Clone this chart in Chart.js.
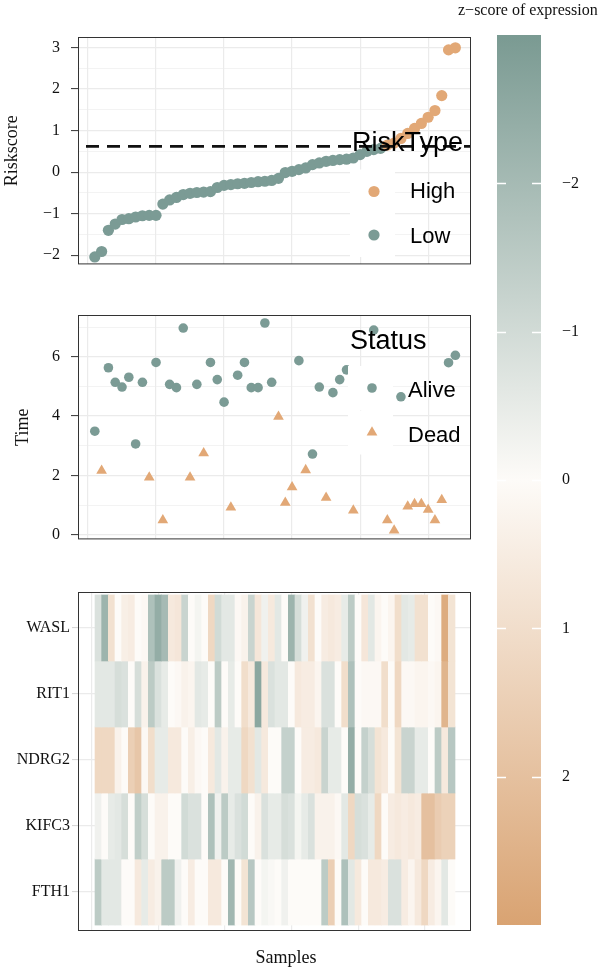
<!DOCTYPE html>
<html>
<head>
<meta charset="utf-8">
<title>Risk score, survival status and expression heatmap</title>
<script src="https://cdn.jsdelivr.net/npm/chart.js@4/dist/chart.umd.min.js"></script>
<style>
  body { margin: 0; background: #fff; }
  #wrap { position: relative; width: 600px; height: 973px; overflow: hidden; }
  canvas { position: absolute; }
</style>
</head>
<body>
<div id="wrap">
  <canvas id="risk" width="600" height="285" style="left:0;top:0"></canvas>
  <canvas id="time" width="600" height="270" style="left:0;top:290px"></canvas>
  <canvas id="heat" width="600" height="403" style="left:0;top:570px"></canvas>
  <canvas id="bar" width="160" height="973" style="left:440px;top:0"></canvas>
</div>
<script>
// ---- data (54 samples, sorted by risk score) ----
const riskScore = [-2.04, -1.91, -1.40, -1.25, -1.14, -1.12, -1.08, -1.05, -1.04, -1.04,
  -0.77, -0.67, -0.61, -0.54, -0.51, -0.49, -0.48, -0.47, -0.37, -0.32,
  -0.30, -0.28, -0.27, -0.25, -0.23, -0.22, -0.20, -0.15, -0.01, 0.02,
  0.06, 0.10, 0.18, 0.22, 0.26, 0.28, 0.30, 0.31, 0.34, 0.42,
  0.50, 0.54, 0.57, 0.65, 0.70, 0.81, 0.93, 1.05, 1.17, 1.32,
  1.48, 1.84, 2.94, 2.99];
const cutoff = 0.62;

// survival time (years); null = hidden behind the legend keys
const survTime = [3.49, 2.16, 5.63, 5.14, 4.98, 5.31, 3.06, 5.14, 1.93, 5.81,
  0.49, 5.07, 4.96, 6.97, 1.93, 5.07, 2.75, 5.81, 5.23, 4.47,
  0.92, 5.38, 5.81, 4.96, 4.96, 7.14, 5.14, 3.98, 1.08, 1.60,
  5.87, 2.18, 2.72, 4.98, 1.25, 4.79, 5.23, 5.56, 0.82, null,
  null, 6.90, null, 0.49, 0.14, 4.65, 0.95, 1.04, 1.04, 0.84,
  0.49, 1.17, 5.80, 6.05];
const status = ['Alive', 'Dead', 'Alive', 'Alive', 'Alive', 'Alive', 'Alive', 'Alive', 'Dead', 'Alive',
  'Dead', 'Alive', 'Alive', 'Alive', 'Dead', 'Alive', 'Dead', 'Alive', 'Alive', 'Alive',
  'Dead', 'Alive', 'Alive', 'Alive', 'Alive', 'Alive', 'Alive', 'Dead', 'Dead', 'Dead',
  'Alive', 'Dead', 'Alive', 'Alive', 'Dead', 'Alive', 'Alive', 'Alive', 'Dead', null,
  null, 'Alive', null, 'Dead', 'Dead', 'Alive', 'Dead', 'Dead', 'Dead', 'Dead',
  'Dead', 'Dead', 'Alive', 'Alive'];

// z-score of expression, one array per gene
const wasl = [-0.8, -2.2, 0.9, 0, 0.4, 0.5, 0, 0.1, -1.8, -2.4,
  -2.0, 0.6, 0.7, -1.2, 0, -0.2, 0, 1.2, -1.0, -0.6,
  -0.6, 0.1, 0.3, -1.2, 0.7, -0.3, 0.6, -0.6, 0, -2.2,
  -0.9, -0.3, 0.9, 0, 0.5, 0.6, 0.5, -0.5, -1.5, 0,
  0.7, -0.6, 0.2, 0, 0.2, 1.0, -0.6, -0.5, 0.9, 0.9,
  0, 0.1, 2.7, 0.8];
const rit1 = [-0.6, -0.6, -0.6, -0.9, -0.8, 0, -0.9, 0.3, -1.5, -0.8,
  -0.5, 0, 0.1, 0.3, 0.2, -0.6, -0.5, 0, -1.5, 0,
  -0.5, 0, 1.0, 0.6, -2.6, 0.6, -0.8, -0.6, -0.6, 0,
  0.6, 0.5, 0.5, 0.2, -0.8, -0.8, 0, 1.0, -1.8, 0,
  0.1, 0.1, 0.1, 1.0, 0, 1.2, 0.1, 0.1, 0.2, 0.2,
  0.1, 0.2, 2.4, 0.8];
const ndrg2 = [1.2, 1.2, 1.2, 0.3, 0, 1.5, 1.8, 0.1, 1.0, -0.5,
  -0.5, 0.6, 0.6, 0, 0.4, 0.1, 0, 0.6, -0.6, 0.3,
  -0.5, -0.5, 1.2, 0.9, -0.6, 0.6, 0, 0, -1.3, -1.3,
  0, 0.5, 0.5, 0.6, -1.2, -0.5, -0.5, 0, -2.4, 0,
  -1.3, -0.9, 0.8, 0.6, 0, 0.8, -1.2, -1.2, -0.5, -0.5,
  0, -1.5, 0.6, -1.6];
const kifc3 = [-0.3, 0, -0.5, -0.6, -0.9, 0, -1.4, -0.9, 0, 0.3,
  0.3, 0, 0, -1.0, -0.8, -0.8, 0, -1.8, -0.3, -1.5,
  -0.5, -0.8, -1.0, 0, 0.3, -0.8, -0.5, -0.5, -0.9, -0.8,
  -0.2, -0.5, -0.8, 0.3, 0.3, 0.3, 0.1, -0.6, 1.2, -0.9,
  -0.8, -0.5, 1.2, 0, 0.5, 0.6, 0.5, 0.6, 0.5, 2.0,
  2.0, 1.6, 1.4, 1.4];
const fth1 = [-1.5, -0.6, -0.6, -0.6, 0, 0, 0.6, -0.5, 0.5, 0.3,
  -1.5, -1.5, -0.3, 0, 0.5, 0, 0, 0.6, 0.6, 0,
  -2.1, 0, 0.8, -1.6, 0, -0.2, -0.1, 0, -0.3, 0,
  0, 0, 0, 0, -1.5, 1.5, 0, -1.8, -0.6, 0.6,
  0, 0.6, 0.6, 0.5, -0.8, -0.8, 0.5, 0.2, 0.6, 1.2,
  0.5, 0.2, -0.6, 0];

const geneNames = ['WASL', 'RIT1', 'NDRG2', 'KIFC3', 'FTH1'];   // top to bottom
const geneValues = [wasl, rit1, ndrg2, kifc3, fth1];

const sampleBreaks = [0, 10, 20, 30, 40, 50];
const riskBreaks = [-2, -1.5, -1, -0.5, 0, 0.5, 1, 1.5, 2, 2.5, 3];
const timeBreaks = [0, 1, 2, 3, 4, 5, 6, 7];
const zBreaks = [-2, -1, 0, 1, 2];

// ---- styling ----
const serif = "'Liberation Serif', 'DejaVu Serif', serif";
const sans = "'Liberation Sans', Arial, sans-serif";
const GREEN = '#7B9B95';
const ORANGE = '#E2A876';
const GRID = '#EBEBEB';
const zLow = [122, 154, 146], zMid = [253, 251, 248], zHigh = [217, 163, 114];

function zColor(z) {
  const t = Math.min(Math.abs(z) / 3, 1);
  const end = z < 0 ? zLow : zHigh;
  const c = zMid.map((m, k) => Math.round(m + (end[k] - m) * t));
  return 'rgb(' + c.join(',') + ')';
}
const minus = v => (v < 0 ? '\u2212' + Math.abs(v) : String(v));
const setTicks = vals => axis => { axis.ticks = vals.map(v => ({ value: v })); };
const isInt = c => Number.isInteger(c.tick.value);

Chart.defaults.animation = false;
Chart.defaults.events = [];
Chart.defaults.plugins.legend.display = false;
Chart.defaults.plugins.tooltip.enabled = false;

// panel border
const framePlugin = {
  id: 'frame',
  afterDraw(chart) {
    const { ctx, chartArea: a } = chart;
    ctx.save();
    ctx.strokeStyle = '#333';
    ctx.lineWidth = 1;
    ctx.strokeRect(a.left + 0.5, a.top + 0.5, a.width - 1, a.height - 1);
    ctx.restore();
  }
};

// ggplot-like legend inside the panel
function legendPlugin(cfg) {
  return {
    id: 'keys',
    afterDatasetsDraw(chart) {
      const ctx = chart.ctx;
      ctx.save();
      cfg.items.forEach(it => {
        ctx.fillStyle = '#fff';
        ctx.fillRect(cfg.boxX, it.y - 22, 45, 44);
      });
      cfg.items.forEach(it => {
        ctx.fillStyle = it.color;
        Chart.helpers.drawPoint(ctx, { pointStyle: it.style, radius: it.radius, rotation: 0, borderWidth: 0 }, cfg.keyX, it.y);
      });
      ctx.fillStyle = '#000';
      ctx.textBaseline = 'alphabetic';
      ctx.textAlign = 'left';
      ctx.font = '27px ' + sans;
      ctx.fillText(cfg.title, cfg.titleX, cfg.titleY);
      ctx.font = '22px ' + sans;
      cfg.items.forEach(it => ctx.fillText(it.label, cfg.textX, it.baseline));
      ctx.restore();
    }
  };
}

function yAxis(extra) {
  return Object.assign({
    afterBuildTicks: null,
    ticks: { autoSkip: false, font: { family: serif, size: 16 }, color: '#111', padding: 11 },
    grid: {
      color: GRID,
      lineWidth: c => (isInt(c) ? 1.2 : 0.6),
      tickColor: c => (isInt(c) ? '#333' : 'rgba(0,0,0,0)'),
      tickWidth: 1,
      tickLength: 7
    },
    border: { display: false },
    afterFit: a => { a.width = 78; }
  }, extra);
}
function xSampleAxis(min, max) {
  return {
    type: 'linear', min: min, max: max, offset: false,
    afterBuildTicks: setTicks(sampleBreaks),
    ticks: { display: false },
    grid: { color: GRID, lineWidth: 1.2, drawTicks: false, offset: false },
    border: { display: false },
    afterFit: a => { a.height = 0; }
  };
}

// ---- panel 1: risk score ----
const riskType = riskScore.map(s => (s > cutoff ? 'High' : 'Low'));
new Chart(document.getElementById('risk'), {
  type: 'scatter',
  data: {
    datasets: [{
      data: riskScore.map((s, i) => ({ x: i + 1, y: s })),
      pointBackgroundColor: riskType.map(t => (t === 'High' ? ORANGE : GREEN)),
      pointBorderWidth: 0,
      pointRadius: 5.6,
      order: 1
    }, {
      data: [{ x: -1.47, y: cutoff }, { x: 56.3, y: cutoff }],
      showLine: true,
      borderColor: '#111',
      borderWidth: 2.6,
      borderDash: [13, 8],
      borderDashOffset: -8,
      pointRadius: 0,
      order: 0
    }]
  },
  options: {
    responsive: false,
    layout: { padding: { top: 37, right: 129, bottom: 17, left: 0 } },
    scales: {
      x: xSampleAxis(-1.47, 56.3),
      y: yAxis({
        min: -2.22, max: 3.25,
        afterBuildTicks: setTicks(riskBreaks),
        ticks: { autoSkip: false, font: { family: serif, size: 16 }, color: '#111', padding: 11,
          callback: v => (Number.isInteger(v) ? minus(v) : '') },
        title: { display: true, text: 'Riskscore', font: { family: serif, size: 18 }, color: '#111', padding: { top: 1, bottom: 0 } }
      })
    }
  },
  plugins: [legendPlugin({
    title: 'RiskType', titleX: 352, titleY: 151,
    boxX: 350, keyX: 374, textX: 410,
    items: [
      { label: 'High', color: ORANGE, style: 'circle', radius: 5.6, y: 191.5, baseline: 198 },
      { label: 'Low', color: GREEN, style: 'circle', radius: 5.6, y: 235, baseline: 242.5 }
    ]
  }), framePlugin]
});

// ---- panel 2: survival time / status ----
new Chart(document.getElementById('time'), {
  type: 'scatter',
  data: {
    datasets: [{
      data: survTime.map((t, i) => ({ x: i + 1, y: t })),
      pointStyle: status.map(s => (s === 'Dead' ? 'triangle' : 'circle')),
      pointRadius: status.map(s => (s === 'Dead' ? 6.2 : 4.8)),
      pointBackgroundColor: status.map(s => (s === 'Dead' ? ORANGE : GREEN)),
      pointBorderWidth: 0
    }]
  },
  options: {
    responsive: false,
    layout: { padding: { top: 25, right: 129, bottom: 13, left: 0 } },
    scales: {
      x: xSampleAxis(-1.47, 56.3),
      y: yAxis({
        min: -0.16, max: 7.41,
        afterBuildTicks: setTicks(timeBreaks),
        ticks: { autoSkip: false, font: { family: serif, size: 16 }, color: '#111', padding: 11,
          callback: v => (v % 2 === 0 ? String(v) : '') },
        grid: {
          color: GRID,
          lineWidth: c => (c.tick.value % 2 === 0 ? 1.2 : 0.6),
          tickColor: c => (c.tick.value % 2 === 0 ? '#333' : 'rgba(0,0,0,0)'),
          tickWidth: 1,
          tickLength: 7
        },
        title: { display: true, text: 'Time', font: { family: serif, size: 18 }, color: '#111', padding: { top: 12, bottom: 0 } }
      })
    }
  },
  plugins: [legendPlugin({
    title: 'Status', titleX: 350, titleY: 59,
    boxX: 348, keyX: 372, textX: 408,
    items: [
      { label: 'Alive', color: GREEN, style: 'circle', radius: 4.8, y: 98, baseline: 106.5 },
      { label: 'Dead', color: ORANGE, style: 'triangle', radius: 6.2, y: 142.5, baseline: 151.5 }
    ]
  }), framePlugin]
});

// ---- panel 3: expression heatmap ----
const heatDatasets = geneNames.map((g, r) => {
  const row = geneNames.length - r;
  return {
    label: g,
    data: geneValues[r].map((z, i) => ({ x: i + 1, y: [row - 0.5, row + 0.5] })),
    backgroundColor: geneValues[r].map(zColor),
    borderWidth: 0,
    barPercentage: 1,
    categoryPercentage: 1,
    grouped: false
  };
});
const samplesTitle = {
  id: 'samplesTitle',
  afterDraw(chart) {
    const ctx = chart.ctx;
    ctx.save();
    ctx.font = '18px ' + serif;
    ctx.fillStyle = '#111';
    ctx.textAlign = 'center';
    ctx.textBaseline = 'middle';
    ctx.fillText('Samples', 286, 388);
    ctx.restore();
  }
};
new Chart(document.getElementById('heat'), {
  type: 'bar',
  data: { datasets: heatDatasets },
  options: {
    responsive: false,
    layout: { padding: { top: 22, right: 129, bottom: 42, left: 0 } },
    scales: {
      x: xSampleAxis(-2.05, 56.9),
      y: {
        type: 'linear', min: 0.41, max: 5.545,
        afterBuildTicks: setTicks([1, 2, 3, 4, 5]),
        ticks: { autoSkip: false, font: { family: serif, size: 16 }, color: '#111', padding: 2,
          callback: v => geneNames[geneNames.length - v] },
        grid: { color: GRID, lineWidth: 1.2, tickColor: '#D4D4D4', tickWidth: 1, tickLength: 6 },
        border: { display: false },
        afterFit: a => { a.width = 78; }
      }
    }
  },
  plugins: [framePlugin, samplesTitle]
});

// ---- colour key ----
const barDecor = {
  id: 'barDecor',
  afterDatasetsDraw(chart) {
    const { ctx, chartArea: a } = chart;
    const y = chart.scales.y;
    ctx.save();
    ctx.strokeStyle = '#fff';
    ctx.lineWidth = 1.5;
    zBreaks.forEach(v => {
      const py = Math.round(y.getPixelForValue(v)) + 0.5;
      ctx.beginPath();
      ctx.moveTo(a.left, py); ctx.lineTo(a.left + 9, py);
      ctx.moveTo(a.right - 9, py); ctx.lineTo(a.right, py);
      ctx.stroke();
    });
    ctx.font = '16px ' + serif;
    ctx.fillStyle = '#111';
    ctx.textAlign = 'left';
    ctx.textBaseline = 'alphabetic';
    ctx.fillText('z\u2212score of expression', 18, 15);
    ctx.restore();
  }
};
new Chart(document.getElementById('bar'), {
  type: 'bar',
  data: {
    labels: ['z'],
    datasets: [{
      data: [[-3, 3]],
      backgroundColor: c => {
        const a = c.chart.chartArea;
        if (!a) return zColor(0);
        const g = c.chart.ctx.createLinearGradient(0, a.top, 0, a.bottom);
        g.addColorStop(0, zColor(-3));
        g.addColorStop(0.5, zColor(0));
        g.addColorStop(1, zColor(3));
        return g;
      },
      borderWidth: 0,
      barPercentage: 1,
      categoryPercentage: 1
    }]
  },
  options: {
    responsive: false,
    layout: { padding: { top: 35, right: 0, bottom: 48, left: 57 } },
    scales: {
      x: { display: false },
      y: {
        position: 'right', reverse: true, min: -3, max: 3,
        afterBuildTicks: setTicks(zBreaks),
        ticks: { font: { family: serif, size: 16 }, color: '#111', padding: 21, callback: v => minus(v) },
        grid: { display: false, drawTicks: false },
        border: { display: false },
        afterFit: a => { a.width = 59; }
      }
    }
  },
  plugins: [barDecor]
});
</script>
</body>
</html>
